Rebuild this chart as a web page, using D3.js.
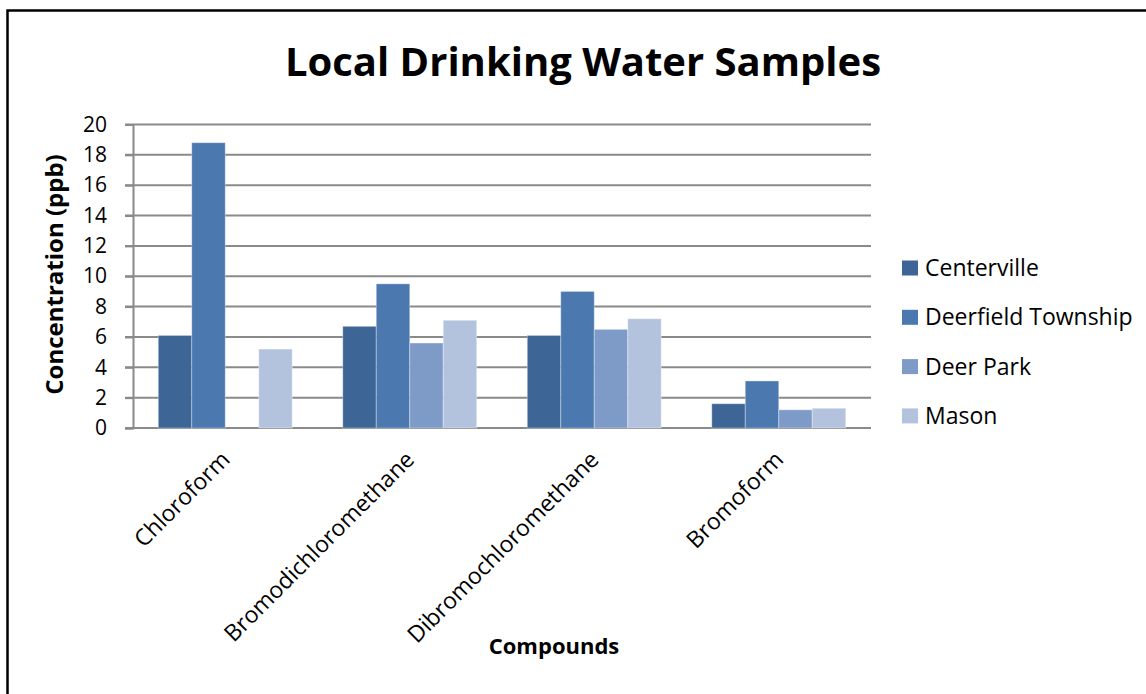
<!DOCTYPE html>
<html>
<head>
<meta charset="utf-8">
<script src="https://cdn.jsdelivr.net/npm/d3@7"></script>
<style>
  html, body { margin: 0; padding: 0; background: #fff; }
  svg { display: block; font-family: "Open Sans", Lato, sans-serif; }
</style>
</head>
<body>
<svg id="chart" width="1146" height="694"></svg>
<script>
// Compounds along the x axis
const compounds = ["Chloroform", "Bromodichloromethane", "Dibromochloromethane", "Bromoform"];
// Sampling locations (one bar per location in each group)
const locations = ["Centerville", "Deerfield Township", "Deer Park", "Mason"];
// Concentrations in ppb, one array per location, ordered like `compounds`
const centerville = [6.1, 6.7, 6.1, 1.6];
const deerfield   = [18.8, 9.5, 9.0, 3.1];
const deerPark    = [null, 5.6, 6.5, 1.2];
const mason       = [5.2, 7.1, 7.2, 1.3];
const yTicks = [0, 2, 4, 6, 8, 10, 12, 14, 16, 18, 20];
const colors = ["#3d6596", "#4a78af", "#7e9bc8", "#b3c3de"];

const series = [centerville, deerfield, deerPark, mason];

const svg = d3.select("#chart");
const W = 1146, H = 694;
const plot = { left: 133, right: 871, top: 124.5, bottom: 428 };

// outer frame
svg.append("rect")
  .attr("x", 7.5).attr("y", 10.5)
  .attr("width", W + 10).attr("height", H + 10)
  .attr("fill", "none").attr("stroke", "#000").attr("stroke-width", 2.5);

const x0 = d3.scaleBand().domain(compounds)
  .range([plot.left, plot.right]).paddingInner(0.274).paddingOuter(0.137);
const x1 = d3.scaleBand().domain(locations).range([0, x0.bandwidth()]);
const y = d3.scaleLinear().domain([0, 20]).range([plot.bottom, plot.top]);
const color = d3.scaleOrdinal().domain(locations).range(colors);

// horizontal gridlines
svg.append("g")
  .selectAll("line").data(yTicks).join("line")
  .attr("x1", plot.left - 8).attr("x2", plot.right)
  .attr("y1", d => y(d)).attr("y2", d => y(d))
  .attr("stroke", "#8a8a8a").attr("stroke-width", 2);

// y axis
const yAxis = svg.append("g")
  .attr("transform", `translate(${plot.left},0)`)
  .call(d3.axisLeft(y).tickValues(yTicks).tickSize(8).tickPadding(18));
yAxis.select(".domain").attr("stroke", "#8a8a8a").attr("stroke-width", 2);
yAxis.selectAll(".tick line").attr("stroke", "#8a8a8a").attr("stroke-width", 2);
yAxis.selectAll("text").attr("font-size", 21).attr("fill", "#000")
  .attr("font-family", "'Open Sans', sans-serif");

// bars
const groups = svg.append("g").selectAll("g").data(compounds).join("g")
  .attr("transform", d => `translate(${x0(d)},0)`);
groups.selectAll("rect")
  .data((c, ci) => locations.map((loc, li) => ({ loc, v: series[li][ci] })).filter(d => d.v != null))
  .join("rect")
  .attr("x", d => x1(d.loc))
  .attr("width", x1.bandwidth())
  .attr("y", d => y(d.v))
  .attr("height", d => y(0) - y(d.v))
  .attr("fill", d => color(d.loc))
  .attr("stroke", "rgba(255,255,255,0.35)").attr("stroke-width", 1);

// category labels, rotated
svg.append("g").selectAll("text").data(compounds).join("text")
  .attr("transform", d => `translate(${x0(d) + x0.bandwidth() / 2 + 6},461) rotate(-45)`)
  .attr("text-anchor", "end")
  .attr("font-size", 23)
  .text(d => d);

// title
svg.append("text")
  .attr("x", 583).attr("y", 76)
  .attr("text-anchor", "middle")
  .attr("font-size", 40).attr("font-weight", "bold")
  .text("Local Drinking Water Samples");

// axis titles
svg.append("text")
  .attr("x", 554).attr("y", 654)
  .attr("text-anchor", "middle")
  .attr("font-size", 22).attr("font-weight", "bold")
  .text("Compounds");

svg.append("text")
  .attr("transform", "translate(63,274.5) rotate(-90)")
  .attr("text-anchor", "middle")
  .attr("font-size", 24).attr("font-weight", "bold")
  .text("Concentration (ppb)");

// legend
const legend = svg.append("g").selectAll("g").data(locations).join("g")
  .attr("transform", (d, i) => `translate(902,${260.5 + i * 49.3})`);
legend.append("rect")
  .attr("width", 16).attr("height", 15)
  .attr("fill", d => color(d));
legend.append("text")
  .attr("x", 23).attr("y", 15.5)
  .attr("font-size", 23)
  .text(d => d);
</script>
</body>
</html>
